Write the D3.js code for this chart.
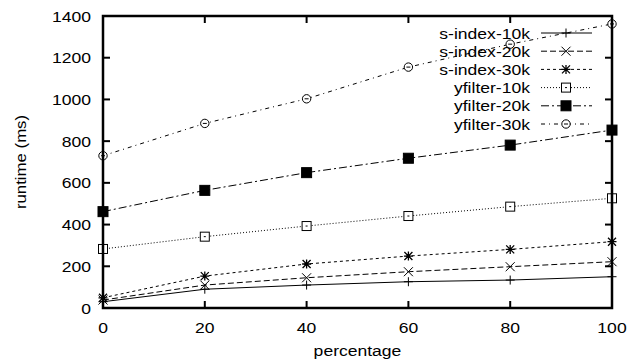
<!DOCTYPE html>
<html>
<head>
<meta charset="utf-8">
<script src="https://cdn.jsdelivr.net/npm/d3@7"></script>
<style>
body { margin: 0; background: #fff; }
text { font-family: "Liberation Sans", Arial, sans-serif; fill: #000; }
</style>
</head>
<body>
<svg id="chart" width="632" height="362"></svg>
<script>
// data
var percentages = [0, 20, 40, 60, 80, 100];
var seriesNames = ["s-index-10k", "s-index-20k", "s-index-30k", "yfilter-10k", "yfilter-20k", "yfilter-30k"];
var sindex10k = [30, 90, 110, 126, 134, 150];
var sindex20k = [38, 110, 145, 174, 198, 222];
var sindex30k = [49, 153, 211, 249, 281, 318];
var yfilter10k = [283, 342, 393, 441, 486, 526];
var yfilter20k = [462, 564, 649, 718, 781, 853];
var yfilter30k = [730, 885, 1003, 1155, 1265, 1362];
var xTicks = [0, 20, 40, 60, 80, 100];
var yTicks = [0, 200, 400, 600, 800, 1000, 1200, 1400];

var seriesValues = [sindex10k, sindex20k, sindex30k, yfilter10k, yfilter20k, yfilter30k];
var dashes = ["none", "6,3", "3,3", "1,2", "8,3,2,3", "4,4,1,4"];
var markers = ["plus", "cross", "star", "box", "boxfill", "circle"];

var svg = d3.select("#chart");
var pLeft = 103, pRight = 612, pTop = 16, pBottom = 308;
var sx = 1.17; // text looks stretched horizontally

var x = d3.scaleLinear().domain([0, 100]).range([pLeft, pRight]);
var y = d3.scaleLinear().domain([0, 1400]).range([pBottom, pTop]);

var txt = function(g, str, tx, ty, anchor, size) {
    return g.append("text")
        .attr("transform", "translate(" + tx + "," + ty + ") scale(" + sx + ",1)")
        .attr("text-anchor", anchor)
        .style("font-size", size + "px")
        .text(str);
};

// ticks, mirrored on all sides
var tickG = svg.append("g").attr("stroke", "#000").attr("stroke-width", 2);
xTicks.forEach(function(t) {
    tickG.append("line").attr("x1", x(t)).attr("x2", x(t)).attr("y1", pBottom).attr("y2", pBottom - 7);
    tickG.append("line").attr("x1", x(t)).attr("x2", x(t)).attr("y1", pTop).attr("y2", pTop + 7);
});
yTicks.forEach(function(t) {
    tickG.append("line").attr("x1", pLeft).attr("x2", pLeft + 7).attr("y1", y(t)).attr("y2", y(t));
    tickG.append("line").attr("x1", pRight).attr("x2", pRight - 7).attr("y1", y(t)).attr("y2", y(t));
});

var labels = svg.append("g");
xTicks.forEach(function(t) {
    txt(labels, t, x(t), 333, "middle", 15);
});
yTicks.forEach(function(t) {
    txt(labels, t, 91, y(t) + 5.5, "end", 15);
});
txt(labels, "percentage", (pLeft + pRight) / 2, 356, "middle", 15);
labels.append("text")
    .attr("transform", "translate(26," + ((pTop + pBottom) / 2) + ") rotate(-90) scale(1.12,1)")
    .attr("text-anchor", "middle")
    .style("font-size", "15px")
    .text("runtime (ms)");

var drawMarker = function(g, kind, cx, cy) {
    var m = g.append("g").attr("transform", "translate(" + cx + "," + cy + ")")
        .attr("stroke", "#000").attr("stroke-width", 1).attr("fill", "none");
    if (kind == "plus") {
        m.append("path").attr("d", "M-4.5,0H4.5M0,-4.5V4.5");
    } else if (kind == "cross") {
        m.append("path").attr("d", "M-4.5,-4.5L4.5,4.5M-4.5,4.5L4.5,-4.5");
    } else if (kind == "star") {
        m.append("path").attr("d", "M-4.5,0H4.5M0,-4.5V4.5M-4,-4L4,4M-4,4L4,-4").attr("stroke-width", 1.3);
    } else if (kind == "box") {
        m.append("rect").attr("x", -4.5).attr("y", -4.5).attr("width", 9).attr("height", 9).attr("fill", "#fff");
        m.append("path").attr("d", "M-1,0H1");
    } else if (kind == "boxfill") {
        m.append("rect").attr("x", -5).attr("y", -5).attr("width", 10).attr("height", 10).attr("fill", "#000");
    } else if (kind == "circle") {
        m.append("circle").attr("r", 4.2).attr("fill", "#fff");
        m.append("path").attr("d", "M-2,0H2");
    }
};

var line = d3.line()
    .x(function(d, i) { return x(percentages[i]); })
    .y(function(d) { return y(d); });

var plot = svg.append("g");
seriesValues.forEach(function(vals, k) {
    plot.append("path")
        .attr("d", line(vals))
        .attr("fill", "none")
        .attr("stroke", "#000")
        .attr("stroke-width", 1)
        .attr("stroke-dasharray", dashes[k]);
    vals.forEach(function(v, i) {
        drawMarker(plot, markers[k], x(percentages[i]), y(v));
    });
});

// legend
var leg = svg.append("g");
seriesNames.forEach(function(name, k) {
    var ly = 33 + k * 18.2;
    txt(leg, name, 530, ly + 5.5, "end", 15);
    leg.append("line")
        .attr("x1", 541).attr("x2", 592).attr("y1", ly).attr("y2", ly)
        .attr("stroke", "#000").attr("stroke-width", 1)
        .attr("stroke-dasharray", dashes[k]);
    drawMarker(leg, markers[k], 566, ly);
});

// frame
svg.append("rect")
    .attr("x", pLeft).attr("y", pTop)
    .attr("width", pRight - pLeft).attr("height", pBottom - pTop)
    .attr("fill", "none").attr("stroke", "#000").attr("stroke-width", 2.5);
</script>
</body>
</html>
